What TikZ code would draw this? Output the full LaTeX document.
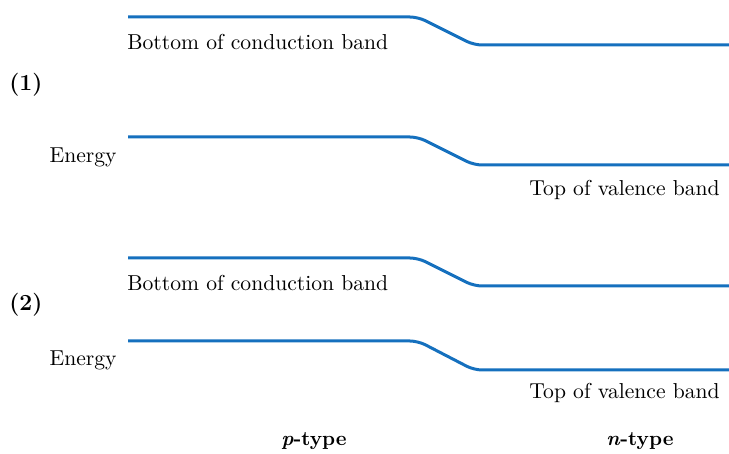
\documentclass[tikz,border=0pt]{standalone}
\usepackage{xcolor}
\usepackage{tikz}
\usetikzlibrary{positioning}
\definecolor{bandblue}{HTML}{1570BE}

\begin{document}
\begin{tikzpicture}[x=0.5pt, y=-0.5pt,
    band/.style={bandblue, line width=1.5pt, rounded corners=4pt},
    lbl/.style={inner sep=0pt, font=\fontsize{10.8}{13}\selectfont},
    tag/.style={inner sep=0pt, font=\fontsize{11.5}{14}\selectfont\bfseries},
    side/.style={inner sep=0pt, font=\fontsize{10.2}{12}\selectfont\bfseries}
]
\useasboundingbox (0,0) rectangle (729,454);
% diagram (1)
\draw[band] (128,17) -- (418,17) -- (474,45) -- (729,45);
\draw[band] (128,137) -- (418,137) -- (474,165) -- (729,165);
\node[lbl, anchor=west] (cb1) at (127,42) {Bottom of conduction band};
\node[tag, anchor=west] (t1) at (9,85) {(1)};
\node[lbl, anchor=east] (en1) at (117,157) {Energy};
\node[lbl, anchor=east] (vb1) at (720,190) {Top of valence band};
% diagram (2)
\draw[band] (128,258) -- (418,258) -- (474,286) -- (729,286);
\draw[band] (128,341) -- (418,341) -- (474,370) -- (729,370);
\node[lbl, anchor=west] (cb2) at (127,283) {Bottom of conduction band};
\node[tag, anchor=west] (t2) at (9,305) {(2)};
\node[lbl, anchor=east] (en2) at (117,360) {Energy};
\node[lbl, anchor=east] (vb2) at (720,393) {Top of valence band};
% regions
\node[side] (ptype) at (314,441) {\textit{p}-type};
\node[side] (ntype) at (640,441) {\textit{n}-type};
\end{tikzpicture}
\end{document}
